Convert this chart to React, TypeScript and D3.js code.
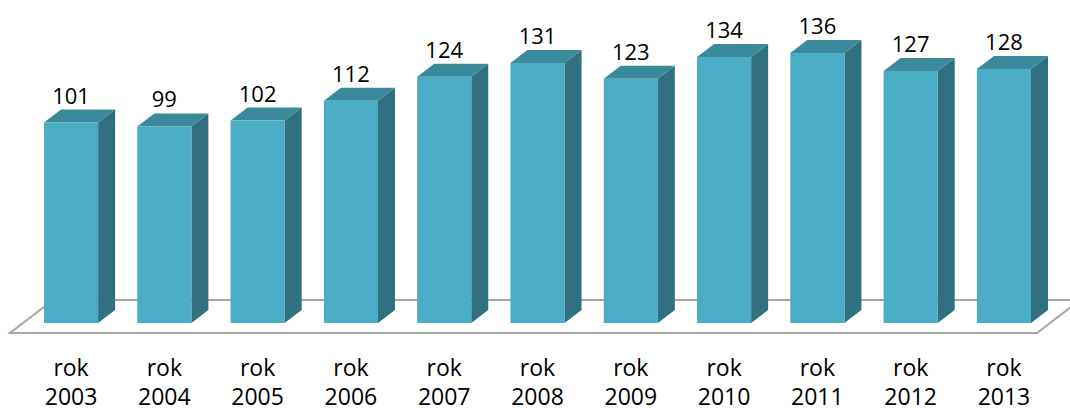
import React from 'react';
import * as d3 from 'd3';

const years = ['2003', '2004', '2005', '2006', '2007', '2008', '2009', '2010', '2011', '2012', '2013'];
const values = [101, 99, 102, 112, 124, 131, 123, 134, 136, 127, 128];

const width = 1070;
const height = 412;
const base = 323; // bottom of the front faces
const depthX = 17;
const depthY = 13;

const front = '#4BACC6';
const topFace = '#3B8A9C';
const sideFace = '#31707F';

const App: React.FC = () => {
  const x = d3.scaleBand<string>()
    .domain(years)
    .range([44, 1031])
    .paddingInner(0.42)
    .paddingOuter(0);

  const y = d3.scaleLinear()
    .domain([0, 150])
    .range([base, base - 150 * 1.985]);

  const bw = x.bandwidth();

  // floor of the 3d plot
  const floor = [
    [10, 333], [1037, 333], [1037 + 43, 300], [53, 300],
  ];

  return (
    <svg width={width} height={height} style={{ position: 'absolute', left: 0, top: 0, background: '#fff' }}>
      <polygon
        points={floor.map(p => p.join(',')).join(' ')}
        fill="#fff"
        stroke="#A6A6A6"
        strokeWidth={2}
      />
      {years.map((yr, i) => {
        const x0 = x(yr)!;
        const x1 = x0 + bw;
        const yt = y(values[i]);
        return (
          <g key={yr}>
            <polygon
              points={`${x1},${yt} ${x1 + depthX},${yt - depthY} ${x1 + depthX},${base - depthY} ${x1},${base}`}
              fill={sideFace}
            />
            <polygon
              points={`${x0},${yt} ${x0 + depthX},${yt - depthY} ${x1 + depthX},${yt - depthY} ${x1},${yt}`}
              fill={topFace}
            />
            <rect x={x0} y={yt} width={bw} height={base - yt} fill={front} />
            <text
              x={x0 + bw / 2}
              y={yt - 19}
              textAnchor="middle"
              fontFamily="'Open Sans', sans-serif"
              fontSize={22}
              fill="#000"
            >
              {values[i]}
            </text>
            <text
              x={x0 + bw / 2}
              textAnchor="middle"
              fontFamily="'Open Sans', sans-serif"
              fontSize={23}
              fill="#000"
            >
              <tspan x={x0 + bw / 2} y={376}>rok</tspan>
              <tspan x={x0 + bw / 2} y={405}>{yr}</tspan>
            </text>
          </g>
        );
      })}
    </svg>
  );
};

export default App;
